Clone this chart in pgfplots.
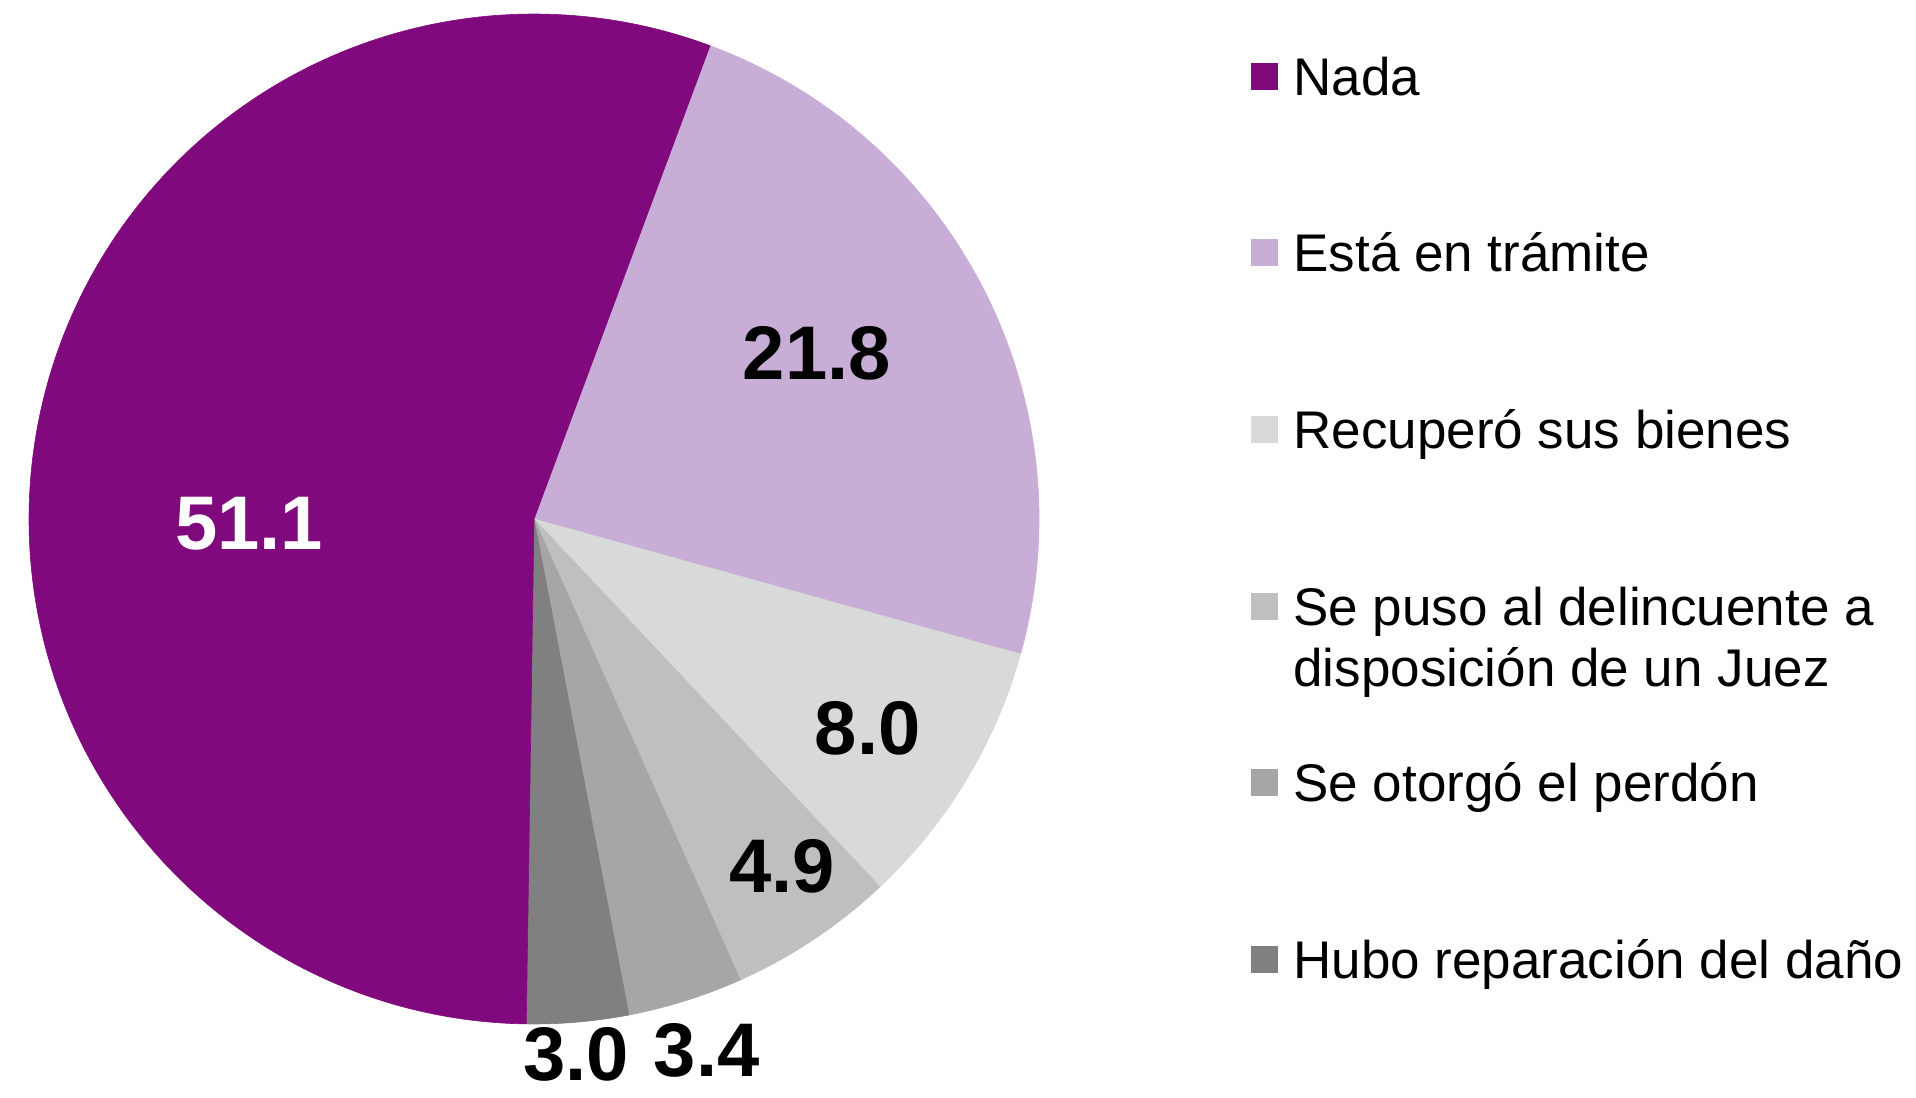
\documentclass[border=0pt]{standalone}
\usepackage{pgfplots}
\pgfplotsset{compat=1.18}
\usepackage{fontspec}
\setmainfont{Liberation Sans}
\definecolor{cNada}{RGB}{128,10,125}
\definecolor{cTram}{RGB}{200,173,214}
\definecolor{cRec}{RGB}{217,217,217}
\definecolor{cPuso}{RGB}{191,191,191}
\definecolor{cPerd}{RGB}{166,166,166}
\definecolor{cRep}{RGB}{128,128,128}
\begin{document}
\begin{tikzpicture}
\useasboundingbox (0,0) rectangle (958bp,549bp);
% data (percent)
\def\vNada{51.1}\def\vTram{21.8}\def\vRec{8.0}\def\vPuso{4.9}\def\vPerd{3.4}\def\vRep{3.0}
\def\R{252.5bp}
\pgfmathsetmacro\tot{\vNada+\vTram+\vRec+\vPuso+\vPerd+\vRep}
\pgfmathsetmacro\aA{69.6}
\pgfmathsetmacro\aB{\aA-\vTram/\tot*360}
\pgfmathsetmacro\aC{\aB-\vRec/\tot*360}
\pgfmathsetmacro\aD{\aC-\vPuso/\tot*360}
\pgfmathsetmacro\aE{\aD-\vPerd/\tot*360}
\pgfmathsetmacro\aF{\aE-\vRep/\tot*360}
\pgfmathsetmacro\aG{\aF-\vNada/\tot*360}
\begin{axis}[hide axis, scale only axis, width=505bp, height=505bp,
  xmin=-1, xmax=1, ymin=-1, ymax=1, at={(267bp,289.5bp)}, anchor=center, clip=false]
\filldraw[cTram, line width=0.3bp] (axis cs:0,0) -- ++(\aA:\R) arc[start angle=\aA, end angle=\aB, radius=\R] -- cycle;
\filldraw[cRec, line width=0.3bp] (axis cs:0,0) -- ++(\aB:\R) arc[start angle=\aB, end angle=\aC, radius=\R] -- cycle;
\filldraw[cPuso, line width=0.3bp] (axis cs:0,0) -- ++(\aC:\R) arc[start angle=\aC, end angle=\aD, radius=\R] -- cycle;
\filldraw[cPerd, line width=0.3bp] (axis cs:0,0) -- ++(\aD:\R) arc[start angle=\aD, end angle=\aE, radius=\R] -- cycle;
\filldraw[cRep, line width=0.3bp] (axis cs:0,0) -- ++(\aE:\R) arc[start angle=\aE, end angle=\aF, radius=\R] -- cycle;
\filldraw[cNada, line width=0.3bp] (axis cs:0,0) -- ++(\aF:\R) arc[start angle=\aF, end angle=\aG, radius=\R] -- cycle;
\begin{scope}[every node/.style={inner sep=0pt, font=\fontsize{38bp}{40bp}\selectfont\bfseries}]
\node[white] at (axis cs:-0.564,-0.010) {51.1};
\node at (axis cs:0.560,0.329) {21.8};
\node at (axis cs:0.661,-0.414) {8.0};
\node at (axis cs:0.491,-0.687) {4.9};
\node at (axis cs:0.342,-1.053) {3.4};
\node at (axis cs:0.083,-1.060) {3.0};
\end{scope}
\end{axis}
% legend
\begin{scope}[every node/.style={inner sep=0pt, anchor=base west, font=\fontsize{26.5bp}{30.5bp}\selectfont}]
\fill[cNada] (625.5bp,503.75bp) rectangle ++(13.5bp,13.5bp);
\node at (646.5bp,501bp) {Nada};
\fill[cTram] (625.5bp,415.75bp) rectangle ++(13.5bp,13.5bp);
\node at (646.5bp,413bp) {Está en trámite};
\fill[cRec] (625.5bp,327.25bp) rectangle ++(13.5bp,13.5bp);
\node at (646.5bp,324.5bp) {Recuperó sus bienes};
\fill[cPuso] (625.5bp,238.75bp) rectangle ++(13.5bp,13.5bp);
\node at (646.5bp,236bp) {Se puso al delincuente a};
\node at (646.5bp,205.5bp) {disposición de un Juez};
\fill[cPerd] (625.5bp,150.75bp) rectangle ++(13.5bp,13.5bp);
\node at (646.5bp,148bp) {Se otorgó el perdón};
\fill[cRep] (625.5bp,62.25bp) rectangle ++(13.5bp,13.5bp);
\node at (646.5bp,59.5bp) {Hubo reparación del daño};
\end{scope}
\end{tikzpicture}
\end{document}
